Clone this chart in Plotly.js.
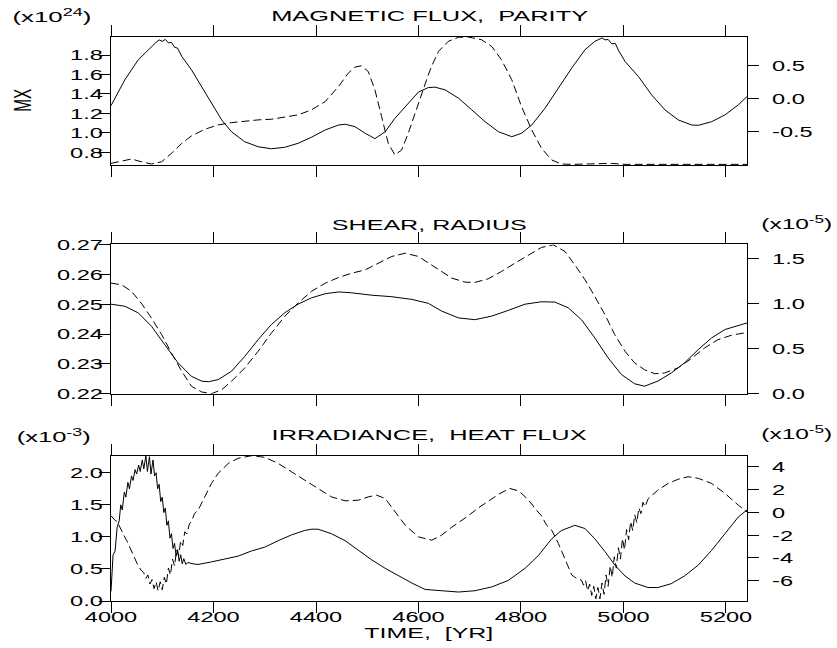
<!DOCTYPE html>
<html><head><meta charset="utf-8">
<script src="https://cdn.plot.ly/plotly-3.0.1.min.js"></script>
<style>html,body{margin:0;padding:0;background:#fff}</style>
</head><body><div id="chart" style="width:837px;height:648px"></div>
<script>
// ---------- DATA ----------
const xTicks = [4000, 4200, 4400, 4600, 4800, 5000, 5200];

// Panel 1: magnetic flux (solid, left, x10^24 Mx) and parity (dashed, right)
const fluxYears = [4000,4027,4053,4079,4088,4094,4100,4106,4112,4118,4124,4130,4138,4157,4177,4196,4216,4235,4261,4287,4313,4339,4365,4391,4418,4444,4457,4476,4496,4515,4535,4554,4574,4600,4619,4632,4652,4678,4704,4730,4756,4782,4801,4821,4847,4873,4899,4925,4944,4952,4958,4964,4970,4977,4984,4990,5003,5029,5055,5081,5107,5133,5146,5172,5198,5224,5241];
const fluxMx    = [1.28,1.545,1.75,1.889,1.93,1.955,1.94,1.96,1.925,1.93,1.88,1.87,1.786,1.648,1.476,1.305,1.133,1.012,0.909,0.858,0.837,0.852,0.893,0.955,1.03,1.081,1.089,1.064,0.996,0.941,1.012,1.15,1.27,1.42,1.465,1.47,1.442,1.357,1.236,1.115,1.012,0.961,0.996,1.081,1.254,1.46,1.666,1.855,1.94,1.96,1.975,1.955,1.96,1.915,1.92,1.85,1.734,1.58,1.39,1.236,1.133,1.081,1.078,1.115,1.185,1.288,1.373];

const parityYears = [4000,4027,4040,4059,4079,4099,4118,4138,4157,4183,4209,4235,4261,4287,4313,4339,4365,4391,4418,4444,4463,4476,4489,4502,4515,4528,4541,4554,4567,4580,4593,4606,4619,4626,4639,4658,4678,4697,4723,4743,4762,4782,4801,4821,4840,4860,4879,4900,4938,4977,5003,5100,5241];
const parityVals  = [-0.975,-0.924,-0.909,-0.95,-0.985,-0.95,-0.823,-0.672,-0.56,-0.46,-0.394,-0.359,-0.333,-0.318,-0.308,-0.278,-0.242,-0.167,-0.04,0.187,0.389,0.48,0.5,0.414,0.136,-0.268,-0.672,-0.848,-0.773,-0.52,-0.217,0.06,0.36,0.5,0.717,0.868,0.93,0.935,0.894,0.792,0.59,0.288,-0.116,-0.47,-0.747,-0.924,-0.985,-0.99,-0.98,-0.975,-0.99,-0.99,-0.99];

// Panel 2: shear (solid, left) and radius (dashed, right, x10^-5)
const shearYears = [4000,4027,4053,4079,4105,4131,4157,4177,4190,4209,4235,4261,4287,4313,4339,4365,4391,4418,4444,4470,4509,4548,4587,4619,4645,4678,4710,4743,4775,4808,4840,4866,4892,4918,4944,4970,4996,5022,5041,5067,5093,5119,5146,5172,5198,5241];
const shearVals  = [0.25,0.2493,0.2471,0.2426,0.2364,0.2303,0.2258,0.2242,0.224,0.2247,0.2275,0.2325,0.2381,0.2432,0.2471,0.25,0.2521,0.2535,0.2541,0.2538,0.253,0.2525,0.2516,0.2503,0.2477,0.2454,0.2448,0.246,0.2479,0.25,0.2508,0.2507,0.2488,0.2448,0.2387,0.232,0.2264,0.2233,0.2225,0.2242,0.2269,0.2303,0.2348,0.2387,0.2415,0.2437];

const radiusYears = [4000,4021,4040,4059,4079,4099,4118,4138,4157,4177,4196,4216,4235,4261,4287,4313,4339,4365,4391,4418,4444,4470,4496,4522,4548,4574,4600,4613,4639,4665,4691,4710,4736,4762,4788,4814,4840,4863,4886,4905,4925,4944,4964,4983,5003,5022,5041,5061,5080,5106,5132,5158,5184,5210,5241];
const radiusVals  = [1.23,1.211,1.138,1.008,0.841,0.656,0.452,0.249,0.082,0.019,0.0,0.044,0.138,0.286,0.471,0.674,0.86,1.008,1.138,1.23,1.293,1.341,1.378,1.452,1.527,1.563,1.527,1.478,1.378,1.286,1.241,1.238,1.278,1.36,1.452,1.544,1.627,1.656,1.582,1.433,1.267,1.082,0.878,0.656,0.471,0.341,0.267,0.222,0.23,0.286,0.389,0.508,0.6,0.649,0.682];

// Panel 3: irradiance (solid, left, x10^-3) and heat flux (dashed, right, x10^-5)
const irrYears = [4000,4004,4008,4012,4016,4019,4022,4026,4029,4033,4036,4040,4043,4047,4050,4054,4057,4061,4064,4068,4071,4075,4078,4082,4085,4088,4091,4094,4097,4100,4103,4106,4109,4112,4115,4118,4121,4124,4127,4130,4133,4136,4139,4142,4146,4150,4160,4170,4196,4222,4248,4274,4300,4326,4352,4378,4391,4404,4430,4457,4483,4509,4535,4561,4587,4613,4645,4678,4710,4743,4775,4808,4834,4860,4879,4905,4925,4944,4964,4983,5003,5022,5048,5067,5093,5119,5146,5172,5198,5224,5241];
const irrVals  = [0.15,0.72,0.78,1.15,1.25,1.5,1.42,1.7,1.62,1.85,1.75,1.95,1.88,2.05,1.98,2.12,2.02,2.2,2.06,2.27,2.02,2.25,1.98,2.2,1.95,2.0,1.75,1.82,1.55,1.62,1.38,1.45,1.18,1.25,0.98,1.05,0.82,0.9,0.7,0.8,0.62,0.72,0.58,0.66,0.57,0.6,0.58,0.57,0.61,0.65,0.7,0.78,0.84,0.94,1.03,1.1,1.12,1.12,1.05,0.94,0.79,0.64,0.51,0.39,0.28,0.18,0.16,0.14,0.16,0.22,0.32,0.51,0.71,0.97,1.1,1.18,1.13,0.97,0.77,0.56,0.39,0.28,0.21,0.21,0.27,0.39,0.56,0.79,1.05,1.31,1.42];

const heatYears = [4000,4004,4008,4012,4016,4020,4025,4031,4038,4046,4052,4059,4064,4068,4072,4076,4080,4084,4088,4092,4096,4100,4104,4108,4112,4116,4120,4124,4128,4132,4136,4140,4144,4148,4153,4157,4163,4170,4183,4196,4209,4229,4248,4274,4300,4326,4352,4378,4404,4430,4457,4483,4502,4518,4535,4554,4574,4600,4626,4645,4665,4694,4720,4740,4759,4778,4795,4805,4818,4830,4840,4850,4860,4873,4886,4899,4905,4912,4918,4922,4926,4930,4934,4938,4942,4946,4950,4954,4958,4962,4966,4970,4974,4978,4982,4986,4990,4994,4998,5002,5006,5010,5014,5018,5022,5026,5030,5034,5038,5042,5048,5067,5087,5106,5126,5146,5172,5198,5224,5241];
const heatVals  = [-0.3,-0.55,-0.7,-0.8,-1.2,-1.6,-2.0,-2.5,-3.2,-4.0,-4.6,-5.1,-5.3,-5.8,-5.5,-6.3,-5.9,-6.7,-6.1,-6.9,-6.1,-6.8,-5.7,-6.3,-4.9,-5.5,-4.1,-4.7,-3.3,-3.8,-2.5,-2.9,-1.7,-1.9,-1.0,-0.8,-0.1,0.2,1.37,2.55,3.44,4.32,4.76,4.99,4.85,4.32,3.58,2.85,2.11,1.37,1.02,1.08,1.37,1.52,1.23,0.05,-1.12,-2.15,-2.44,-2.0,-1.3,-0.39,0.5,1.1,1.67,2.11,1.9,1.52,0.9,0.2,-0.3,-1.12,-1.56,-2.73,-4.2,-5.5,-5.7,-5.9,-5.95,-6.4,-6.0,-6.9,-6.3,-7.3,-6.5,-7.6,-6.6,-7.6,-6.2,-7.2,-5.5,-6.5,-4.7,-5.7,-3.9,-4.9,-3.1,-4.1,-2.3,-3.3,-1.5,-2.4,-0.8,-1.6,-0.2,-0.9,0.4,-0.1,0.9,0.5,1.2,1.96,2.55,2.91,3.14,3.0,2.55,1.67,0.64,0.05];

// tick values / labels
const fluxTicks = [0.8, 1.0, 1.2, 1.4, 1.6, 1.8];
const parityTicks = [-0.5, 0, 0.5];
const parityTickText = ['-0.5', '0.0', '0.5'];
const shearTicks = [0.22, 0.23, 0.24, 0.25, 0.26, 0.27];
const radiusTicks = [0, 0.5, 1.0, 1.5];
const irrTicks = [0, 0.5, 1.0, 1.5, 2.0];
const heatTicks = [-6, -4, -2, 0, 2, 4];
const heatTickText = ['-6', '-4', '-2', '0', '2', '4'];

// ---------- CHART ----------
const FONT = 'Liberation Sans, Arial, Helvetica, sans-serif';
const solid = {color: '#000', width: 1};
const dashed = {color: '#000', width: 1, dash: '8px,4px'};

const traces = [
  {x: fluxYears, y: fluxMx, xaxis: 'x3', yaxis: 'y5', mode: 'lines', line: solid},
  {x: parityYears, y: parityVals, xaxis: 'x3', yaxis: 'y6', mode: 'lines', line: dashed},
  {x: shearYears, y: shearVals, xaxis: 'x2', yaxis: 'y3', mode: 'lines', line: solid},
  {x: radiusYears, y: radiusVals, xaxis: 'x2', yaxis: 'y4', mode: 'lines', line: dashed},
  {x: irrYears, y: irrVals, xaxis: 'x', yaxis: 'y', mode: 'lines', line: solid},
  {x: heatYears, y: heatVals, xaxis: 'x', yaxis: 'y2', mode: 'lines', line: dashed}
];

function ax(extra) {
  return Object.assign({
    showline: true, linecolor: '#000', linewidth: 1,
    ticks: 'outside', ticklen: 11, tickwidth: 1, tickcolor: '#000',
    showgrid: false, zeroline: false, fixedrange: true,
    tickfont: {family: FONT, size: 15.5, color: '#000'}
  }, extra);
}
const xr = [4000, 5241];
const dom1 = [0.773, 1], dom2 = [0.3676, 0.6321], dom3 = [0, 0.2576];
const LEFT_SO = -7, RIGHT_SO = 10;

const annoSpec = [
  {text: 'MAGNETIC FLUX,  PARITY', x: 0.5, y: 1.038},
  {text: 'SHEAR, RADIUS', x: 0.5, y: 0.668},
  {text: 'IRRADIANCE,  HEAT FLUX', x: 0.5, y: 0.296},
  {text: '(x10<sup>24</sup>)', x: -0.0928, y: 1.038},
  {text: '(x10<sup>-5</sup>)', x: 1.0794, y: 0.671},
  {text: '(x10<sup>-3</sup>)', x: -0.0889, y: 0.294},
  {text: '(x10<sup>-5</sup>)', x: 1.0794, y: 0.298},
  {text: 'TIME,  [YR]', x: 0.5, y: -0.0567},
  {text: 'MX', x: -0.1399, y: 0.888, textangle: -90, size: 24}
];
// target widths (px) for the horizontally stretched lettering of the original
const annoWidths = [317, 195, 315, 79, 71, 74, 71, 129, 23];

const layout = {
  width: 837, height: 648,
  margin: {l: 111, r: 90, t: 37, b: 47},
  paper_bgcolor: '#fff', plot_bgcolor: '#fff',
  showlegend: false,
  font: {family: FONT, color: '#000'},
  xaxis:  ax({range: xr, tickvals: xTicks, mirror: 'ticks', anchor: 'y', ticklabelstandoff: -10}),
  xaxis2: ax({range: xr, tickvals: xTicks, mirror: 'ticks', anchor: 'y3', showticklabels: false}),
  xaxis3: ax({range: xr, tickvals: xTicks, mirror: 'ticks', anchor: 'y5', showticklabels: false}),
  yaxis:  ax({domain: dom3, range: [0, 2.266], tickvals: irrTicks, tickformat: '.1f', anchor: 'x', ticklabelstandoff: LEFT_SO}),
  yaxis2: ax({overlaying: 'y', side: 'right', range: [-7.79, 4.99], tickvals: heatTicks, ticktext: heatTickText, anchor: 'x', ticklabelstandoff: RIGHT_SO}),
  yaxis3: ax({domain: dom2, range: [0.22, 0.27], tickvals: shearTicks, tickformat: '.2f', anchor: 'x2', ticklabelstandoff: LEFT_SO}),
  yaxis4: ax({overlaying: 'y3', side: 'right', range: [0, 1.66], tickvals: radiusTicks, tickformat: '.1f', anchor: 'x2', ticklabelstandoff: RIGHT_SO}),
  yaxis5: ax({domain: dom1, range: [0.67, 1.985], tickvals: fluxTicks, tickformat: '.1f', anchor: 'x3', ticklabelstandoff: LEFT_SO}),
  yaxis6: ax({overlaying: 'y5', side: 'right', range: [-1.0, 0.935], tickvals: parityTicks, ticktext: parityTickText, anchor: 'x3', ticklabelstandoff: RIGHT_SO}),
  annotations: annoSpec.map(a => ({
    text: a.text, x: a.x, y: a.y, xref: 'paper', yref: 'paper',
    xanchor: 'center', yanchor: 'middle', showarrow: false,
    textangle: a.textangle || 0,
    font: {family: FONT, size: a.size || 15, color: '#000'}
  }))
};

function stretchText() {
  document.querySelectorAll('.xtick text, .ytick text, .y2tick text, .y3tick text, .y4tick text, .y5tick text, .y6tick text').forEach(t => {
    const w = t.getComputedTextLength();
    if (w > 0) {
      t.setAttribute('textLength', (w * 1.52).toFixed(1));
      t.setAttribute('lengthAdjust', 'spacingAndGlyphs');
    }
  });
  document.querySelectorAll('g.annotation').forEach(g => {
    const i = +g.getAttribute('data-index');
    const t = g.querySelector('text.annotation-text');
    if (t && annoWidths[i]) {
      t.setAttribute('textLength', annoWidths[i]);
      t.setAttribute('lengthAdjust', 'spacingAndGlyphs');
    }
  });
}

Plotly.newPlot('chart', traces, layout, {staticPlot: true, displayModeBar: false}).then(stretchText);
</script></body></html>
